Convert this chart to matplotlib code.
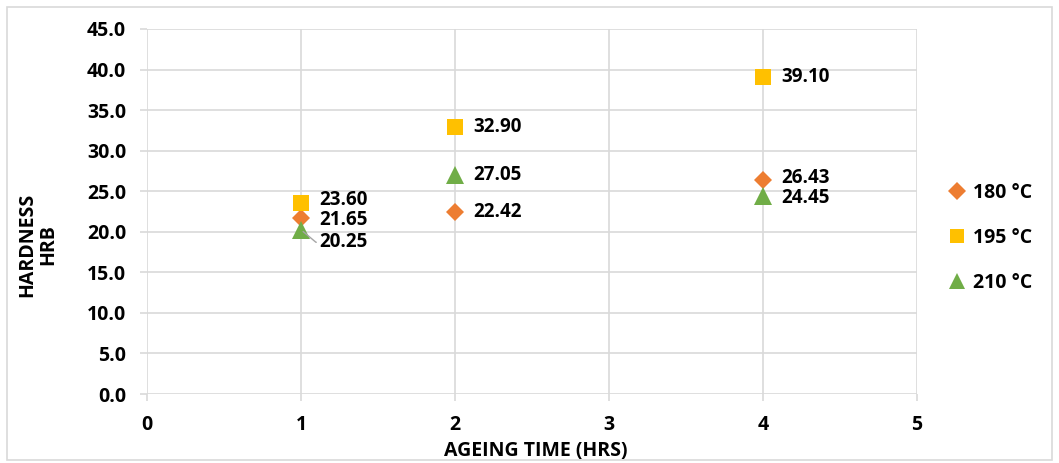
import matplotlib
matplotlib.use("Agg")
import matplotlib.pyplot as plt
from matplotlib.patches import Rectangle

plt.rcParams['font.family'] = ['Open Sans', 'DejaVu Sans']
plt.rcParams['font.weight'] = 'bold'

x_vals = [1, 2, 4]
hard_180 = [21.65, 22.42, 26.43]
hard_195 = [23.60, 32.90, 39.10]
hard_210 = [20.25, 27.05, 24.45]
series_labels = ['180 °C', '195 °C', '210 °C']
y_ticks = [0, 5, 10, 15, 20, 25, 30, 35, 40, 45]
x_ticks = [0, 1, 2, 3, 4, 5]

colors = ['#ED7D31', '#FFC000', '#70AD47']
markers = ['D', 's', '^']
msizes = [9, 12, 13]
FS = 14
LFS = 13.5

W, H = 1059, 463
fig = plt.figure(figsize=(W/100, H/100), dpi=100)
ax = fig.add_axes([147/W, 1-394/H, (917-147)/W, (394-29)/H])

fig.patches.append(Rectangle((7/W, 3/H), 1045/W, 453/H, transform=fig.transFigure,
                             fill=False, edgecolor='#d9d9d9', linewidth=1.2))

# small vertical nudges (points) for crowded labels
nudge = {(1, 23.60): 1.5, (1, 21.65): -1.0, (4, 26.43): 1.5, (4, 24.45): -1.5}

handles = []
for data, c, m, ms, lab in zip([hard_180, hard_195, hard_210], colors, markers, msizes, series_labels):
    h, = ax.plot(x_vals, data, linestyle='none', marker=m, color=c, markersize=ms,
                 markeredgewidth=0, label=lab, zorder=3)
    handles.append(h)
    for xv, yv in zip(x_vals, data):
        if xv == 1 and yv == 20.25:
            ax.annotate(f'{yv:.2f}', xy=(xv, yv), xytext=(13, -9), textcoords='offset points',
                        ha='left', va='center', fontsize=LFS, fontweight='bold',
                        arrowprops=dict(arrowstyle='-', color='#a6a6a6', lw=1,
                                        connectionstyle='angle,angleA=0,angleB=-40,rad=0',
                                        shrinkA=0, shrinkB=2))
        else:
            ax.annotate(f'{yv:.2f}', xy=(xv, yv), xytext=(13, nudge.get((xv, yv), 0)),
                        textcoords='offset points',
                        ha='left', va='center', fontsize=LFS, fontweight='bold')

ax.set_xlim(0, 5)
ax.set_ylim(0, 45)
ax.set_xticks(x_ticks)
ax.set_yticks(y_ticks)
ax.set_yticklabels([f'{v:.1f}' for v in y_ticks])
ax.grid(True, color='#d9d9d9', linewidth=1.2, zorder=0)
ax.set_axisbelow(True)
for s in ax.spines.values():
    s.set_visible(False)
ax.tick_params(axis='both', length=5, color='#d9d9d9', width=1.2, labelsize=FS)
ax.tick_params(axis='x', pad=10)
ax.tick_params(axis='y', pad=10)
for t in ax.get_xticklabels() + ax.get_yticklabels():
    t.set_fontweight('bold')

fig.text(536/W, 1-451/H, 'AGEING TIME (HRS)', fontsize=FS, fontweight='bold',
         ha='center', va='center')
fig.text(38/W, 1-245/H, 'HARDNESS\nHRB', fontsize=FS, fontweight='bold',
         ha='center', va='center', rotation=90, linespacing=1.05, multialignment='center')

leg = fig.legend(handles=handles, labels=series_labels, loc='center left',
                 bbox_to_anchor=(930/W, 1-238/H), frameon=False,
                 labelspacing=1.3, handletextpad=0.3, handlelength=1.0,
                 prop={'weight': 'bold', 'size': FS})
for h, ms in zip(leg.legend_handles, [9, 10, 11]):
    h.set_markersize(ms)

fig.savefig('out.png', dpi=100)
